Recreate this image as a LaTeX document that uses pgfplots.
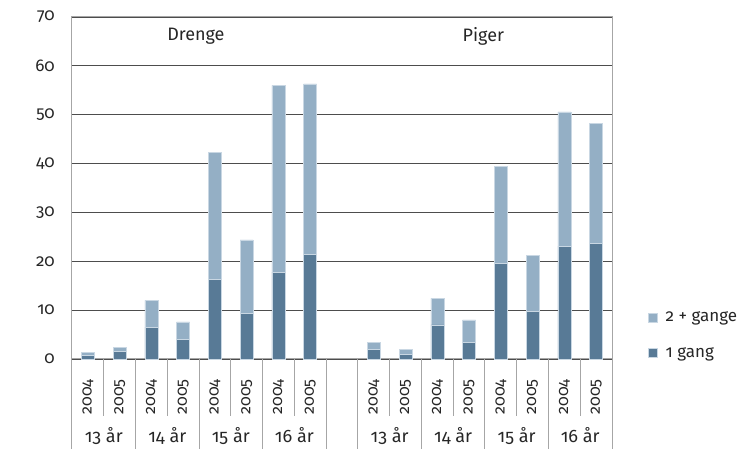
\documentclass[border=0pt]{standalone}
\usepackage{fontspec}
\setmainfont{Fira Sans}[Numbers=OldStyle]
\usepackage{pgfplots}
\usepackage{pgfplotstable}
\pgfplotsset{compat=1.18}
\definecolor{dark}{HTML}{587A96}
\definecolor{light}{HTML}{94AFC5}
\definecolor{edge}{HTML}{C9D7E3}
\definecolor{txt}{HTML}{262626}
\definecolor{framec}{HTML}{A6A6A6}
\definecolor{gridc}{HTML}{4D4D4D}

\pgfplotstableread{
x one two
0 0.7 0.7
1 1.6 0.8
2 6.5 5.5
3 4.0 3.6
4 16.3 26.0
5 9.4 15.0
6 17.8 38.2
7 21.4 34.9
9 2.0 1.4
10 1.0 1.0
11 7.0 5.4
12 3.4 4.6
13 19.6 19.8
14 9.7 11.5
15 23.1 27.5
16 23.7 24.5
}\data

\begin{document}
\begin{tikzpicture}[font=\fontsize{17}{20}\selectfont, text=txt]
\begin{axis}[
  at={(0,0)}, anchor=south west,
  scale only axis, width=540pt, height=342pt,
  xmin=-0.5, xmax=16.5, ymin=0, ymax=70,
  ybar stacked, bar width=0.41,
  ytick={0,10,...,70},
  xtick={0,1,2,3,4,5,6,7,9,10,11,12,13,14,15,16},
  xticklabels={2004,2005,2004,2005,2004,2005,2004,2005,2004,2005,2004,2005,2004,2005,2004,2005},
  xticklabel style={rotate=90, anchor=east, inner sep=0pt, font=\fontsize{16}{19}\selectfont},
  xticklabel shift=20pt,
  yticklabel style={inner sep=0pt, xshift=-17pt},
  major tick length=0pt,
  ymajorgrids, grid style={gridc, line width=0.8pt},
  axis line style={framec, line width=1pt},
  /pgf/number format/assume math mode=true,
  clip=false,
  legend style={draw=none, fill=none, at={(1.061,0.07)}, anchor=west,
    row sep=20pt, column sep=6pt, font=\fontsize{17}{20}\selectfont, cells={anchor=west}},
  legend image code/.code={\fill[#1] (0pt,-4.5pt) rectangle (9pt,4.5pt);},
  reverse legend,
]
\addplot[fill=dark, draw=edge, line width=0.5pt] table[x=x, y=one] {\data};
\addplot[fill=light, draw=edge, line width=0.5pt] table[x=x, y=two] {\data};
\legend{1 gang, 2 + gange}

\pgfplotsinvokeforeach{-0.5,0.5,1.5,2.5,3.5,4.5,5.5,6.5,7.5,8.5,9.5,10.5,11.5,12.5,13.5,14.5,15.5,16.5}{
  \draw[framec, line width=1pt] (axis cs:#1,0) -- ++(0pt,-57pt);
}
\pgfplotsinvokeforeach{-0.5,1.5,3.5,5.5,7.5,8.5,10.5,12.5,14.5,16.5}{
  \draw[framec, line width=1pt] (axis cs:#1,0) -- ++(0pt,-95pt);
}
\node[anchor=base, yshift=-84pt, font=\fontsize{18}{21}\selectfont] at (axis cs:0.5,0) {13 år};
\node[anchor=base, yshift=-84pt, font=\fontsize{18}{21}\selectfont] at (axis cs:2.5,0) {14 år};
\node[anchor=base, yshift=-84pt, font=\fontsize{18}{21}\selectfont] at (axis cs:4.5,0) {15 år};
\node[anchor=base, yshift=-84pt, font=\fontsize{18}{21}\selectfont] at (axis cs:6.5,0) {16 år};
\node[anchor=base, yshift=-84pt, font=\fontsize{18}{21}\selectfont] at (axis cs:9.5,0) {13 år};
\node[anchor=base, yshift=-84pt, font=\fontsize{18}{21}\selectfont] at (axis cs:11.5,0) {14 år};
\node[anchor=base, yshift=-84pt, font=\fontsize{18}{21}\selectfont] at (axis cs:13.5,0) {15 år};
\node[anchor=base, yshift=-84pt, font=\fontsize{18}{21}\selectfont] at (axis cs:15.5,0) {16 år};

\node[font=\fontsize{18}{21}\selectfont] at (axis cs:3.4,66.1) {Drenge};
\node[font=\fontsize{18}{21}\selectfont] at (axis cs:12.45,66.1) {Piger};
\end{axis}
\pgfresetboundingbox
\path[use as bounding box] (-72pt,-90pt) rectangle (675pt,359pt);
\end{tikzpicture}
\end{document}
